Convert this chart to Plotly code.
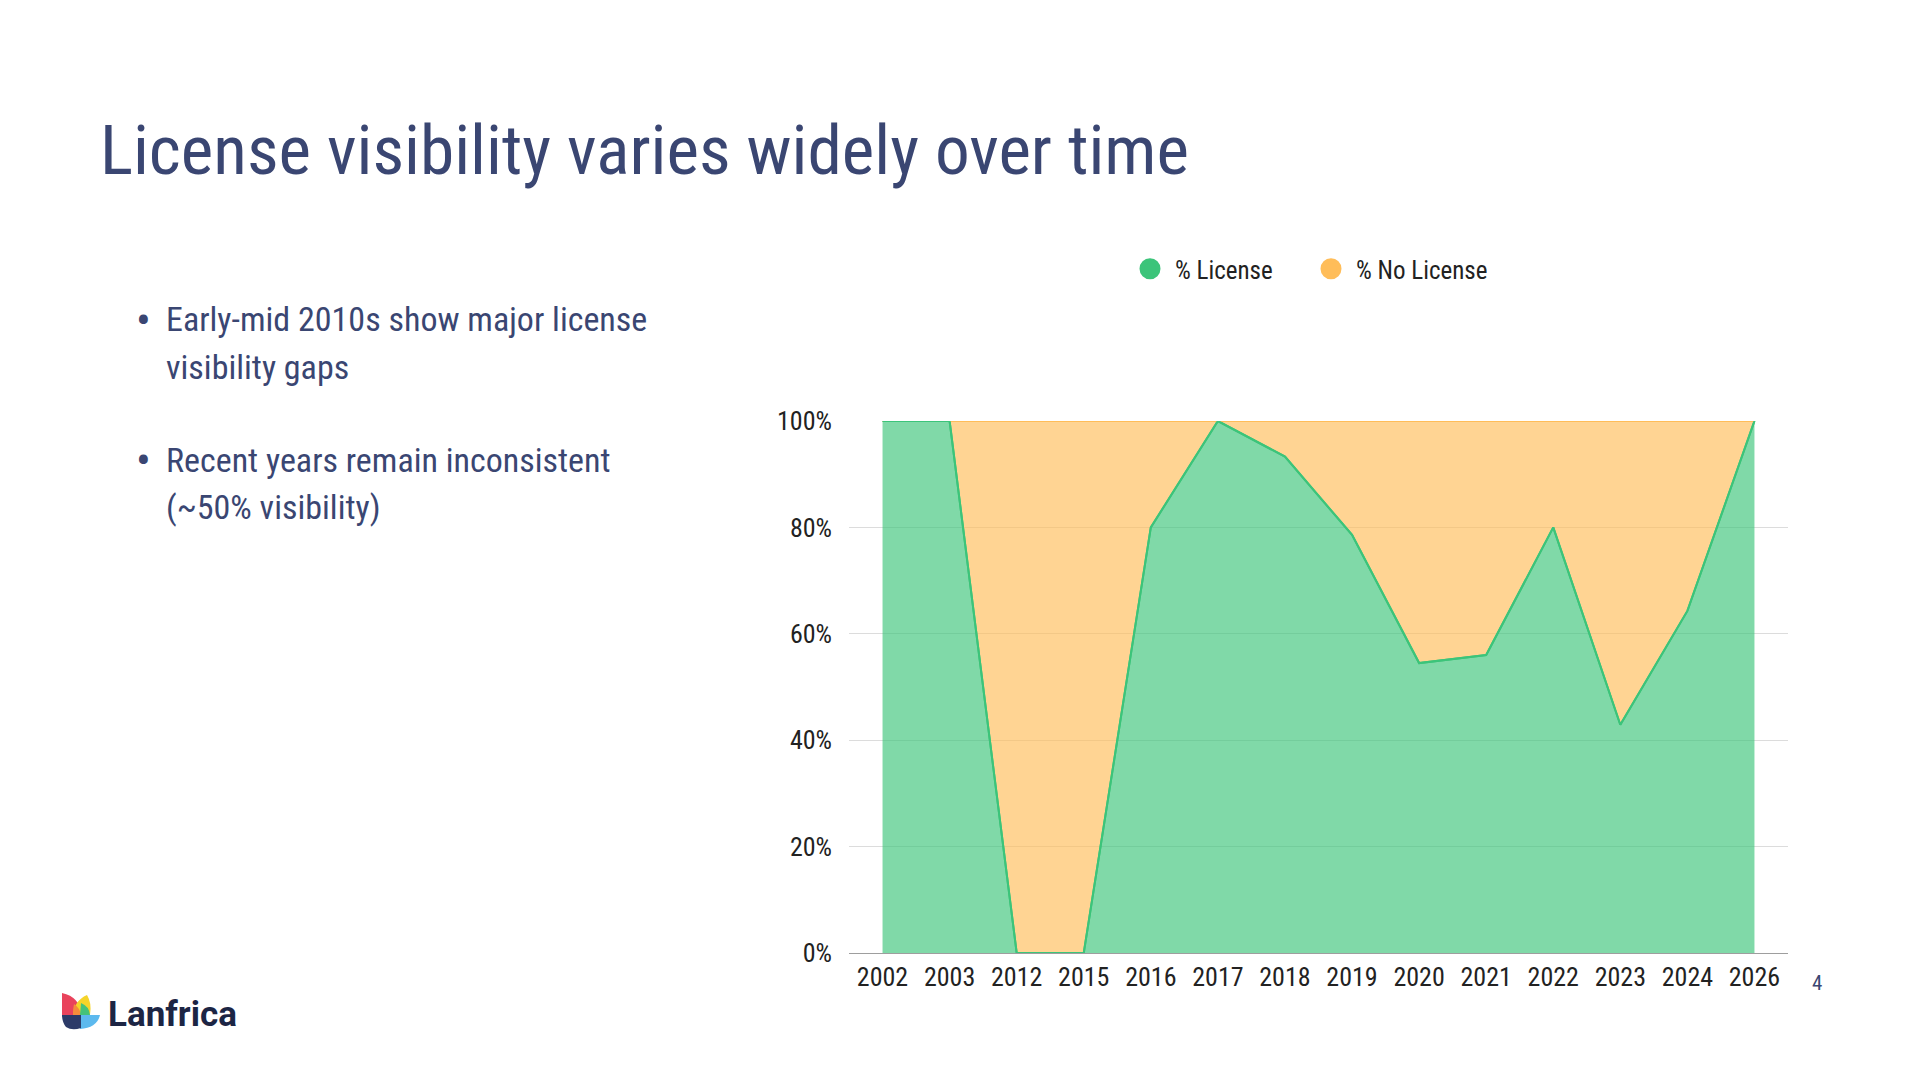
import plotly.graph_objects as go

# ---- data ----
years = ["2002", "2003", "2012", "2015", "2016", "2017", "2018", "2019",
         "2020", "2021", "2022", "2023", "2024", "2026"]
pct_license = [100, 100, 0, 0, 80, 100, 93.3, 78.6, 54.5, 56.0, 80, 42.9, 64.3, 100]
pct_no_license = [0, 0, 100, 100, 20, 0, 6.7, 21.4, 45.5, 44.0, 20, 57.1, 35.7, 0]
y_tick_vals = [0, 20, 40, 60, 80, 100]
y_tick_text = ["0%", "20%", "40%", "60%", "80%", "100%"]

title_text = "License visibility varies widely over time"
bullets = [
    ["Early-mid 2010s show major license", "visibility gaps"],
    ["Recent years remain inconsistent", "(~50% visibility)"],
]

# ---- styling ----
FONT = "Roboto Condensed, Liberation Sans Narrow, DejaVu Sans Condensed, Roboto, sans-serif"
NAVY = "#3a4672"
GREEN = "#3cc47a"
ORANGE = "#ffbd59"
W, H = 1920, 1080
ML, MR, MT, MB = 849, 132, 421, 127
PW, PH = W - ML - MR, H - MT - MB


def px(x):
    return (x - ML) / PW


def py(y):
    return (H - MB - y) / PH


fig = go.Figure()
fig.add_trace(go.Scatter(
    x=years, y=pct_license, name="% License", stackgroup="one",
    mode="lines", line=dict(color=GREEN, width=2),
    fillcolor="rgba(60,196,122,0.65)", showlegend=False, hoverinfo="x+y"))
fig.add_trace(go.Scatter(
    x=years, y=pct_no_license, name="% No License", stackgroup="one",
    mode="lines", line=dict(color=ORANGE, width=2),
    fillcolor="rgba(255,189,89,0.65)", showlegend=False, hoverinfo="x+y"))
# keep the license boundary line on top
fig.add_trace(go.Scatter(
    x=years, y=pct_license, mode="lines", line=dict(color=GREEN, width=2),
    showlegend=False, hoverinfo="skip"))
# legend entries (circle markers)
fig.add_trace(go.Scatter(x=[None], y=[None], mode="markers", name="% License",
                         marker=dict(color=GREEN, size=16, line=dict(color=GREEN, width=5))))
fig.add_trace(go.Scatter(x=[None], y=[None], mode="markers", name="% No License",
                         marker=dict(color=ORANGE, size=16, line=dict(color=ORANGE, width=5))))

fig.update_layout(
    width=W, height=H,
    margin=dict(l=ML, r=MR, t=MT, b=MB, pad=0),
    paper_bgcolor="white", plot_bgcolor="white",
    font=dict(family=FONT, size=26, color="#222222"),
    showlegend=True,
    legend=dict(orientation="h", traceorder="normal",
                x=px(1125), xanchor="left", y=py(269), yanchor="middle",
                font=dict(family=FONT, size=25, color="#222222"),
                itemwidth=40, entrywidth=126, entrywidthmode="pixels",
                bgcolor="rgba(0,0,0,0)", itemclick=False, itemdoubleclick=False),
    xaxis=dict(type="category", range=[-0.5, len(years) - 0.5], showgrid=False,
               showline=True, linecolor="#9e9e9e", linewidth=1,
               ticks="", tickfont=dict(family=FONT, size=26, color="#222222"),
               ticklabelstandoff=1, zeroline=False, fixedrange=True),
    yaxis=dict(range=[0, 100], tickvals=y_tick_vals, ticktext=y_tick_text,
               showgrid=True, gridcolor="#dcdcdc", gridwidth=1, zeroline=False,
               showline=False, ticks="", ticklabelstandoff=16,
               tickfont=dict(family=FONT, size=26, color="#222222"), fixedrange=True),
)

annotations = [
    dict(text=title_text, x=px(98), y=py(150), xref="paper", yref="paper",
         xanchor="left", yanchor="middle", showarrow=False,
         font=dict(family=FONT, size=69.3, color=NAVY)),
]
line_y = [[319.5, 366.5], [460, 507]]
for ys, lines in zip(line_y, bullets):
    annotations.append(dict(text="•", x=px(143), y=py(ys[0] + 1), xref="paper", yref="paper",
                            xanchor="center", yanchor="middle", showarrow=False,
                            font=dict(family=FONT, size=44, color=NAVY)))
    for yv, txt in zip(ys, lines):
        annotations.append(dict(text=txt, x=px(164), y=py(yv), xref="paper", yref="paper",
                                xanchor="left", yanchor="middle", align="left", showarrow=False,
                                font=dict(family=FONT, size=34, color=NAVY)))
annotations.append(dict(text="4", x=px(1817), y=py(983), xref="paper", yref="paper",
                        xanchor="center", yanchor="middle", showarrow=False,
                        font=dict(family=FONT, size=21, color=NAVY)))
annotations.append(dict(text="<b>Lanfrica</b>", x=px(106), y=py(1014), xref="paper", yref="paper",
                        xanchor="left", yanchor="middle", showarrow=False,
                        font=dict(family="Roboto, sans-serif", size=35, color="#1c2544")))
fig.update_layout(annotations=annotations)


# ---- logo icon (decorative) ----
def path(points_cmd):
    out = []
    for tok in points_cmd:
        if isinstance(tok, str):
            out.append(tok)
        else:
            out.append(f"{px(tok[0]):.5f},{py(tok[1]):.5f}")
    return " ".join(out)


shapes = []
icon = [
    ("#e9435c", ["M", (62, 993), "Q", (80, 997), (82, 1015), "L", (62, 1015), "Z"]),
    ("#f5d42a", ["M", (87, 995), "Q", (74, 1001), (73, 1015), "L", (90, 1015), "Q", (92, 1003), (87, 995), "Z"]),
    ("#f58c3b", ["M", (74, 1004), "Q", (80, 1008), (81, 1015), "L", (73, 1015), "Q", (73, 1008), (74, 1004), "Z"]),
    ("#44c27a", ["M", (81, 1003), "Q", (89, 1006), (90, 1015), "L", (80, 1015), "Z"]),
    ("#5cb9ee", ["M", (79, 1015), "L", (100, 1015), "Q", (97, 1028), (80, 1029), "Z"]),
    ("#2c3a68", ["M", (62, 1015), "L", (81, 1015), "L", (81, 1028), "Q", (72, 1031), (66, 1027),
                  "Q", (62, 1022), (62, 1015), "Z"]),
]
for color, cmd in icon:
    shapes.append(dict(type="path", path=path(cmd), xref="paper", yref="paper",
                       fillcolor=color, line=dict(width=0), layer="above"))
fig.update_layout(shapes=shapes)

fig.write_html("out.html", config={"displayModeBar": False})
